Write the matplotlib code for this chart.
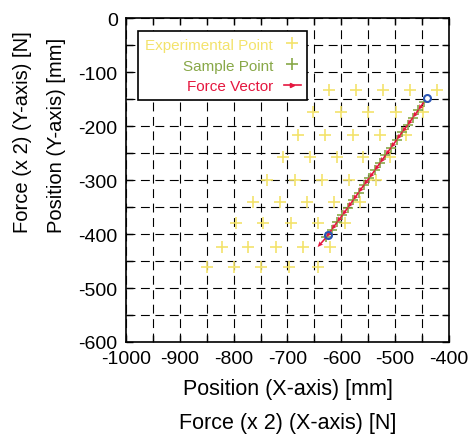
import matplotlib.pyplot as plt
from matplotlib.lines import Line2D

plt.rcParams['font.family'] = ['Liberation Sans', 'DejaVu Sans']
plt.rcParams['axes.unicode_minus'] = False

# Experimental points (skewed grid, read row by row)
exp_x = [-623, -572, -522, -472, -422,
         -652, -601, -550, -498, -449,
         -681, -630, -579, -529, -480,
         -709, -659, -608, -559, -509,
         -738, -686, -636, -585, -535,
         -765, -714, -664, -613, -565,
         -796, -745, -694, -643, -593,
         -822, -773, -722, -672, -621,
         -849, -799, -749, -698, -643]
exp_y = [-132, -132, -132, -132, -132,
         -174, -174, -174, -174, -174,
         -216, -216, -216, -216, -216,
         -257, -257, -257, -257, -257,
         -299, -299, -299, -299, -299,
         -340, -340, -340, -340, -340,
         -380, -380, -380, -380, -380,
         -423, -423, -423, -423, -423,
         -461, -461, -461, -461, -461]

# Sample points along the trajectory and force vectors (x2)
smp_x = [-447, -457, -467, -477, -487, -497, -508, -518, -528, -538,
         -548, -558, -568, -578, -588, -598, -608, -618, -628]
smp_y = [-156, -170, -184, -198, -211, -225, -240, -254, -268, -282,
         -296, -309, -323, -337, -351, -365, -378, -392, -406]
force_u = [-10, -10, -10, -10, -10, -11, -10, -10, -10, -10,
           -10, -10, -10, -10, -10, -10, -10, -10, -16]
force_v = [-14, -14, -14, -13, -14, -15, -14, -14, -14, -14,
           -13, -14, -14, -14, -14, -13, -14, -14, -18]

# Start / end points (blue circles)
end_x = [-441, -625]
end_y = [-148, -402]

yellow = '#f3e36c'
green = '#88a848'
red = '#e5173f'
blue = '#2a55b5'

fig = plt.figure(figsize=(4.71, 4.35), dpi=100)
ax = fig.add_axes([0.2675, 0.2115, 0.6858, 0.7441])

ax.set_xlim(-1000, -400)
ax.set_ylim(-600, 0)
ax.set_xticks(range(-1000, -399, 100))
ax.set_yticks(range(-600, 1, 100))
ax.set_xticks(range(-950, -400, 100), minor=True)
ax.set_yticks(range(-550, 0, 100), minor=True)
ax.tick_params(which='both', direction='in', length=5, width=1,
               top=True, right=True, labelsize=14, pad=6)
for s in ax.spines.values():
    s.set_linewidth(1.2)

ax.grid(True, which='both', color='black', linestyle=(0, (8, 5)), linewidth=0.8)
ax.set_axisbelow(True)

ax.plot(exp_x, exp_y, linestyle='none', marker='+', markersize=8,
        color=yellow, markeredgewidth=1.2)
ax.plot(smp_x, smp_y, linestyle='none', marker='+', markersize=7,
        color=green, markeredgewidth=1.2)
ax.quiver(smp_x, smp_y, force_u, force_v, angles='xy', scale_units='xy',
          scale=1, color=red, width=0.005, headwidth=3, headlength=3.5,
          headaxislength=3, zorder=4)
ax.plot(end_x, end_y, linestyle='none', marker='o', markersize=5,
        markerfacecolor='none', markeredgecolor=blue, markeredgewidth=1.5,
        zorder=5)

handles = [
    Line2D([], [], linestyle='none', marker='+', markersize=8, color=yellow,
           markeredgewidth=1.2),
    Line2D([], [], linestyle='none', marker='+', markersize=8, color=green,
           markeredgewidth=1.2),
    Line2D([], [], linestyle='-', marker='>', markersize=3, color=red,
           linewidth=1.2),
]
leg = ax.legend(handles, ['Experimental Point', 'Sample Point', 'Force Vector'],
                loc='upper left', bbox_to_anchor=(0.015, 0.985),
                markerfirst=False, fontsize=11, handlelength=1.1,
                labelcolor=[yellow, green, red], fancybox=False,
                framealpha=1, edgecolor='black', borderpad=0.45,
                labelspacing=0.45, handletextpad=0.7)
leg.get_frame().set_linewidth(1.2)

# Axis labels (two lines each, gnuplot-like)
fig.text(288 / 471, 1 - 390 / 435, 'Position (X-axis) [mm]', ha='center',
         va='center', fontsize=15.5)
fig.text(288 / 471, 1 - 424 / 435, 'Force (x 2) (X-axis) [N]', ha='center',
         va='center', fontsize=15.5)
fig.text(23 / 471, 1 - 233 / 435, 'Force (x 2) (Y-axis) [N]', ha='center',
         va='bottom', rotation=90, fontsize=14.5)
fig.text(56 / 471, 1 - 233 / 435, 'Position (Y-axis) [mm]', ha='center',
         va='bottom', rotation=90, fontsize=14.5)

plt.savefig('out.png', dpi=100)
